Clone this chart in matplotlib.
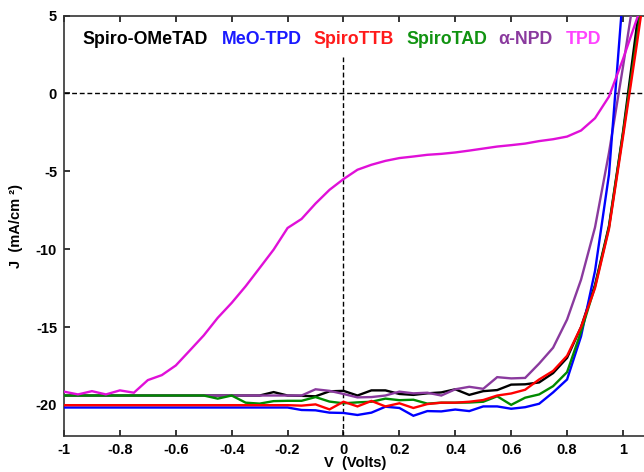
import matplotlib
matplotlib.use("Agg")
import matplotlib.pyplot as plt

voltage = [-1.00, -0.95, -0.90, -0.85, -0.80, -0.75, -0.70, -0.65, -0.60, -0.55,
           -0.50, -0.45, -0.40, -0.35, -0.30, -0.25, -0.20, -0.15, -0.10, -0.05,
           0.00, 0.05, 0.10, 0.15, 0.20, 0.25, 0.30, 0.35, 0.40, 0.45,
           0.50, 0.55, 0.60, 0.65, 0.70, 0.75, 0.80, 0.85, 0.90, 0.95,
           1.00, 1.05, 1.10]

j_spiro_ometad = [-19.4, -19.4, -19.4, -19.4, -19.4, -19.4, -19.4, -19.4, -19.4, -19.4,
                  -19.4, -19.4, -19.4, -19.4, -19.4, -19.18, -19.4, -19.42, -19.45, -19.13,
                  -19.1, -19.4, -19.07, -19.07, -19.3, -19.36, -19.26, -19.2, -19.0, -19.36,
                  -19.12, -19.05, -18.7, -18.68, -18.56, -17.96, -16.98, -15.0, -12.3, -8.5,
                  -2.5, 4.4, 11.0]

j_meo_tpd = [-20.17, -20.17, -20.17, -20.17, -20.17, -20.17, -20.17, -20.17, -20.17, -20.17,
             -20.17, -20.17, -20.17, -20.17, -20.17, -20.17, -20.17, -20.33, -20.35, -20.5,
             -20.52, -20.65, -20.5, -20.12, -20.2, -20.7, -20.4, -20.42, -20.3, -20.4,
             -20.1, -20.1, -20.25, -20.15, -19.93, -19.2, -18.37, -15.6, -11.4, -5.2,
             6.4, 18.0, 30.0]

j_spiro_ttb = [-20.02, -20.02, -20.02, -20.02, -20.02, -20.02, -20.02, -20.02, -20.02, -20.02,
               -20.02, -20.02, -20.02, -20.02, -20.02, -20.02, -20.02, -20.05, -19.97, -20.29,
               -19.8, -20.1, -19.75, -20.1, -19.9, -20.2, -19.95, -19.86, -19.86, -19.8,
               -19.69, -19.4, -19.27, -19.03, -18.37, -17.82, -16.85, -15.0, -12.5, -8.7,
               -2.8, 3.2, 9.5]

j_spiro_tad = [-19.4, -19.4, -19.4, -19.4, -19.4, -19.4, -19.4, -19.4, -19.4, -19.4,
               -19.4, -19.6, -19.4, -19.86, -19.92, -19.76, -19.74, -19.74, -19.5, -19.79,
               -19.9, -19.84, -19.8, -19.6, -19.7, -19.67, -19.92, -19.86, -19.86, -19.85,
               -19.8, -19.45, -20.0, -19.54, -19.33, -18.8, -17.9, -15.3, -12.4, -8.6,
               -2.6, 3.6, 10.0]

j_alpha_npd = [-19.4, -19.4, -19.4, -19.4, -19.4, -19.4, -19.4, -19.4, -19.4, -19.4,
               -19.4, -19.4, -19.4, -19.4, -19.4, -19.4, -19.4, -19.4, -19.0, -19.1,
               -19.3, -19.52, -19.5, -19.4, -19.15, -19.26, -19.22, -19.4, -19.0, -18.84,
               -18.97, -18.22, -18.3, -18.27, -17.35, -16.33, -14.52, -11.96, -8.6, -3.8,
               1.7, 7.5, 13.0]

j_tpd = [-19.15, -19.33, -19.12, -19.33, -19.07, -19.22, -18.41, -18.09, -17.47, -16.51,
         -15.54, -14.41, -13.45, -12.38, -11.21, -10.03, -8.64, -8.06, -7.07, -6.19,
         -5.5, -4.9, -4.58, -4.33, -4.15, -4.05, -3.94, -3.88, -3.79, -3.67,
         -3.54, -3.41, -3.32, -3.22, -3.06, -2.94, -2.77, -2.38, -1.59, -0.2,
         2.2, 4.8, 7.4]

labels = ["Spiro-OMeTAD", "MeO-TPD", "SpiroTTB", "SpiroTAD", "\u03b1-NPD", "TPD"]
x_ticks = [-1, -0.8, -0.6, -0.4, -0.2, 0, 0.2, 0.4, 0.6, 0.8, 1]
x_ticklabels = ["-1", "-0.8", "-0.6", "-0.4", "-0.2", "0", "0.2", "0.4", "0.6", "0.8", "1"]
y_ticks = [-20, -15, -10, -5, 0, 5]
y_ticklabels = ["-20", "-15", "-10", "-5", "0", "5"]

plt.rcParams['font.family'] = ['Liberation Sans', 'DejaVu Sans']
plt.rcParams['font.weight'] = 'bold'

line_colors = ["#000000", "#0000ff", "#ff0000", "#008a00", "#8a3a9e", "#e010d8"]
text_colors = ["#000000", "#1a1aff", "#ff1a1a", "#119311", "#8a3a9e", "#ff44ff"]

fig = plt.figure(figsize=(6.44, 4.72), dpi=100)
W, H = 644, 472
ax = fig.add_axes([64 / W, 36 / H, 583 / W, 420.4 / H])

series = [j_spiro_ometad, j_meo_tpd, j_spiro_ttb, j_spiro_tad, j_alpha_npd, j_tpd]
order = [0, 4, 1, 3, 2, 5]
for i in order:
    ax.plot(voltage, series[i], color=line_colors[i], lw=1.7, zorder=3 + order.index(i),
            solid_joinstyle='miter')

ax.set_xlim(-1, 1.086)
ax.set_ylim(-22, 5)

ax.axhline(0, color='black', lw=1.0, ls=(0, (3.5, 2)), zorder=2)
ax.plot([0, 0], [-22, 2.35], color='black', lw=1.0, ls=(0, (3.5, 2)), zorder=2)

ax.set_xticks(x_ticks)
ax.set_xticklabels(x_ticklabels)
ax.set_yticks(y_ticks)
ax.set_yticklabels(y_ticklabels)
ax.tick_params(direction='in', length=4.5, width=1.1, labelsize=10.5, top=True, right=False,
               pad=5, colors='black')
ax.tick_params(axis='y', pad=5)
for lab in ax.get_xticklabels() + ax.get_yticklabels():
    lab.set_fontweight('bold')
for s in ax.spines.values():
    s.set_linewidth(1.2)
    s.set_color('#333333')

ax.set_xlabel("V  (Volts)", fontsize=10.5, fontweight='bold', labelpad=-1)
ax.set_ylabel("J  (mA/cm \u00b2)", fontsize=10.5, fontweight='bold', labelpad=9)

label_x = [82, 222, 313, 406, 498, 566]
for lab, lx, c in zip(labels, label_x, text_colors):
    fig.text(lx / W, 1 - 40 / H, lab, color=c, fontsize=12.8, fontweight='bold',
             ha='left', va='center')

fig.savefig("out.png", dpi=100)
